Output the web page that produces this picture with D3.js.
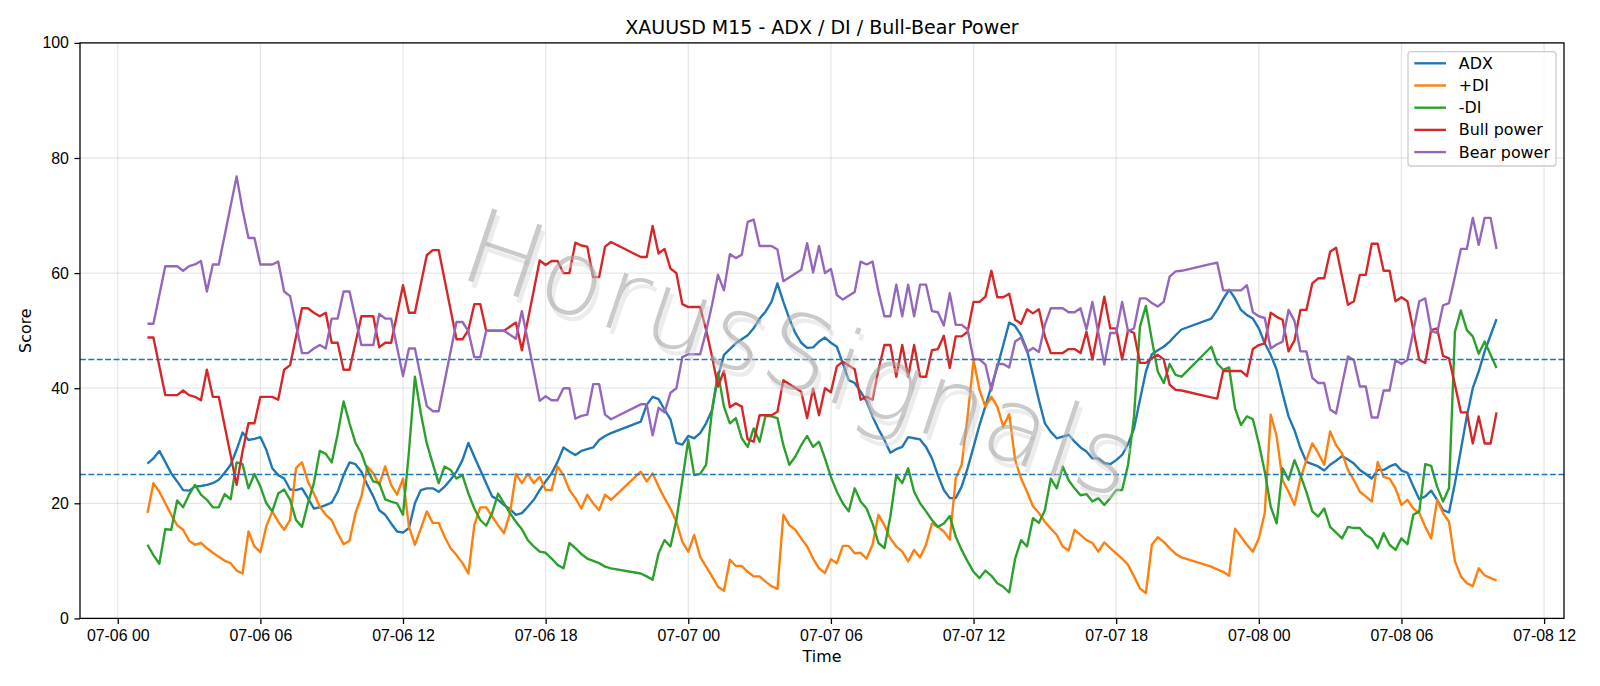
<!DOCTYPE html>
<html>
<head>
<meta charset="utf-8">
<script src="https://cdn.jsdelivr.net/npm/d3@7"></script>
<style>
  body { margin: 0; background: #fff; }
  svg { display: block; font-family: "DejaVu Sans", sans-serif; }
</style>
</head>
<body>
<div id="chart"></div>
<script>
// M15 bars, three trading sessions (start, number of bars)
var sessions = [["2025-07-06 01:15", 79], ["2025-07-06 22:00", 92], ["2025-07-07 22:00", 49]];

var adx = [
  26.9,27.8,29.1,27.2,25.2,23.8,22.3,22.2,22.9,23.0,23.2,23.5,24.1,25.3,26.7,29.3,32.3,31.0,31.2,31.5,29.3,26.1,24.9,24.3,22.4,22.3,22.6,20.9,19.1,19.3,19.7,20.1,
  22.0,24.9,27.1,26.8,25.5,23.2,21.2,18.8,18.0,16.5,15.1,14.9,15.7,20.0,22.3,22.6,22.6,22.0,22.9,24.1,25.5,27.5,30.5,28.1,25.8,23.5,21.2,20.6,19.7,19.0,18.0,18.3,19.4,20.6,22.3,23.8,25.2,27.2,29.7,29.0,28.4,29.1,29.4,29.7,31.0,31.7,32.2,
  34.2,37.1,38.5,38.1,36.3,34.6,30.5,30.2,31.7,31.3,32.2,33.9,36.2,42.0,45.8,46.8,47.8,48.5,49.2,50.4,52.1,53.3,55.0,58.2,55.0,52.1,49.6,47.9,47.0,47.1,48.1,48.8,47.9,47.2,
  44.3,41.4,40.9,39.4,37.7,35.1,32.9,31.0,28.8,29.4,29.8,31.5,31.3,31.1,29.8,27.8,24.9,22.3,20.9,20.9,22.9,26.1,29.8,33.6,36.9,40.3,43.7,47.5,51.4,50.8,49.2,46.6,42.3,37.9,33.9,32.4,31.3,31.6,31.9,30.7,29.7,29.0,
  27.8,27.8,27.0,26.8,27.5,28.4,30.3,33.0,38.0,42.9,45.9,46.6,47.2,48.1,49.2,50.2,
  52.1,53.6,55.5,57.1,55.6,53.6,52.7,52.1,50.4,47.8,45.8,43.2,39.1,35.1,32.7,29.6,27.2,26.8,26.4,25.7,26.7,27.4,28.2,27.6,26.9,25.8,25.1,24.3,25.8,25.8,26.4,26.8,25.7,25.3,22.9,20.7,21.2,22.2,20.6,18.8,18.4,23.5,29.3,35.1,40.0,42.9,46.4,49.2,52.0
];

var plusDI = [
  18.3,23.5,22.0,20.0,18.0,16.2,15.4,13.5,12.8,13.1,12.2,11.4,10.7,10.0,9.6,8.3,7.8,15.1,12.5,11.5,16.0,18.6,16.8,15.4,17.1,26.1,27.1,23.8,21.7,19.4,18.0,17.1,
  14.8,12.9,13.5,18.3,21.2,26.4,25.2,23.2,26.4,23.2,21.5,24.3,15.9,12.8,15.6,18.6,16.6,16.6,14.2,12.2,11.0,9.6,7.8,16.2,19.3,19.3,17.7,16.2,14.8,18.3,25.1,23.5,25.1,23.5,24.6,22.3,22.3,26.4,24.9,22.3,20.9,19.1,21.5,20.0,18.8,21.5,20.6,
  25.5,23.8,25.2,22.9,20.9,19.1,16.8,13.3,11.6,14.5,10.7,9.0,7.3,5.5,4.8,10.2,9.1,9.1,8.1,7.3,7.3,6.4,5.6,5.1,18.0,16.2,15.4,13.9,12.5,10.4,8.7,7.9,10.3,9.6,
  12.6,12.6,11.3,11.4,10.4,12.8,18.0,16.2,13.9,12.5,11.6,9.9,11.9,10.6,12.8,16.5,15.9,15.1,13.7,24.3,26.7,35.1,44.9,39.7,36.8,38.5,36.8,33.3,35.5,27.5,24.3,22.0,19.5,18.3,16.8,15.6,14.5,12.5,11.8,15.4,14.5,13.6,
  13.1,11.6,13.2,12.2,11.3,10.4,9.3,7.3,5.2,4.4,12.8,14.1,13.3,12.2,11.2,10.6,
  9.0,8.5,8.1,7.4,15.6,14.2,12.8,11.6,13.9,18.3,35.4,31.6,24.0,22.0,19.7,24.3,27.5,30.4,28.7,26.7,32.5,30.1,28.7,25.8,24.0,22.0,21.2,20.3,27.2,24.6,24.3,22.6,19.7,20.6,19.1,18.3,15.9,13.9,20.6,18.3,16.8,9.9,7.3,6.1,5.6,8.7,7.5,7.0,6.6
];

var minusDI = [
  12.8,11.0,9.5,15.5,15.4,20.5,19.3,21.5,23.2,21.5,20.6,19.3,19.3,21.6,20.7,27.1,26.8,22.6,25.1,22.9,20.0,18.6,21.7,22.4,20.6,17.1,15.9,20.0,23.5,29.1,28.6,27.1,
  32.0,37.7,33.9,30.5,28.7,25.8,23.8,23.5,20.7,20.3,20.0,18.0,29.0,42.0,35.6,30.4,26.9,23.5,26.4,25.8,24.3,24.9,21.7,19.1,17.1,16.1,18.3,21.7,20.0,18.3,16.8,15.5,13.6,12.5,11.6,11.4,10.4,9.3,8.7,13.1,12.2,11.2,10.4,10.0,9.6,9.0,8.7,
  7.8,7.3,6.7,11.3,13.6,12.5,17.1,24.0,31.0,24.9,25.1,26.7,36.2,42.7,36.8,33.9,34.8,31.3,29.8,33.0,30.7,35.2,35.1,34.8,30.1,26.7,28.1,30.1,31.7,29.8,30.7,27.8,24.6,22.0,
  20.0,18.6,22.6,20.3,19.1,16.5,13.1,12.2,17.7,24.9,23.5,26.1,22.0,20.0,18.6,17.1,15.9,16.5,17.8,14.2,11.9,9.9,8.1,7.0,8.3,7.4,6.1,5.5,4.5,10.4,13.6,12.5,17.4,16.6,18.8,24.3,22.6,26.4,24.0,22.6,21.4,21.6,
  20.3,20.9,19.7,20.9,22.3,22.3,26.7,35.1,50.7,54.3,48.4,42.9,40.9,44.2,42.3,42.0,
  47.2,44.3,43.2,43.6,36.5,33.6,35.1,34.6,30.4,25.5,19.4,16.5,26.1,24.1,27.5,24.9,22.0,18.6,17.7,19.1,15.9,14.9,13.9,15.9,15.7,15.7,14.5,13.9,12.2,14.8,12.8,11.9,13.9,12.9,18.0,18.6,26.8,26.5,22.9,20.3,22.6,49.8,53.5,50.1,49.0,46.0,48.1,45.8,43.5
];

// bull / bear power, hours since 07-06 00:00
var powerHours = [
  1.25,1.5,2,2.5,2.75,3,3.25,3.5,3.75,4,4.25,5,5.25,5.5,5.75,6,6.5,6.75,7,7.25,7.75,8,8.25,8.5,8.75,9,9.25,9.5,9.75,10.25,10.75,11,11.25,11.5,12,12.25,12.5,13,13.25,13.5,
  14.25,14.5,14.75,15,15.25,15.5,16.25,16.75,17,17.75,18,18.25,18.5,18.75,19,19.25,19.5,19.75,20,20.25,20.5,20.75,
  22,22.25,22.5,22.75,23,23.25,23.5,23.75,24,24.5,24.75,25,25.25,25.5,25.75,26,26.25,26.5,26.75,27,27.5,27.75,28,28.75,29,29.25,29.5,29.75,30,30.25,30.5,
  31,31.25,31.5,31.75,32,32.25,32.5,32.75,33,33.25,33.5,33.75,34,34.25,34.5,34.75,35,35.25,35.5,35.75,36,36.25,36.5,36.75,37,37.25,37.5,37.75,38,38.25,38.5,38.75,
  39,39.25,39.5,39.75,40,40.25,40.5,40.75,41,41.25,41.5,41.75,42,42.25,42.5,42.75,43,43.25,43.5,43.75,44,44.25,44.5,44.75,
  46,46.25,46.5,47.25,47.5,47.75,48,48.25,48.5,48.75,49,49.25,49.5,49.75,50,50.25,50.5,50.75,51,51.25,51.5,51.75,52,52.25,52.5,52.75,53,53.25,53.5,53.75,
  54,54.25,54.5,54.75,55,55.25,55.5,55.75,56,56.25,56.5,56.75,57,57.25,57.5,57.75,58
];
var bullPower = [
  48.8,48.8,38.8,38.8,39.6,38.8,38.5,37.9,43.2,38.5,38.5,23.2,29.0,33.9,33.9,38.5,38.5,38.0,43.2,44.0,53.9,53.9,53.1,52.5,53.1,47.9,47.9,43.2,43.2,52.5,52.5,47.1,47.9,47.9,57.9,53.1,53.1,63.1,64.0,64.0,
  48.5,48.5,50.1,54.6,54.6,50.0,50.0,51.4,46.6,62.2,61.4,62.1,62.1,60.0,60.0,65.3,64.8,64.6,59.3,59.3,64.6,65.4,
  62.8,62.8,68.2,63.4,64.2,60.8,60.0,54.6,54.1,54.1,50.1,45.5,40.3,43.0,36.7,37.4,36.8,31.1,30.7,35.3,35.3,35.9,41.4,39.4,34.8,39.9,35.3,40.0,39.3,43.8,44.6,
  43.3,38.0,38.5,38.0,43.2,47.5,47.5,42.0,47.5,42.0,47.5,42.0,42.0,46.6,46.8,49.1,43.5,49.0,49.0,49.8,55.0,55.0,55.9,60.4,55.8,55.8,56.4,51.9,51.2,53.7,53.0,53.7,
  49.0,46.1,46.1,46.1,46.8,46.8,46.1,49.8,45.0,50.4,55.9,50.4,50.4,45.0,50.1,49.6,44.4,44.4,45.2,45.8,45.0,40.6,39.7,39.6,
  38.4,38.2,43.0,43.0,42.1,46.8,47.5,47.8,53.1,52.4,51.9,46.4,48.3,53.6,53.6,58.2,59.1,59.1,63.7,64.4,59.4,54.5,55.1,59.7,59.7,65.1,65.1,60.4,60.4,55.1,
  55.8,55.1,50.1,44.9,44.4,50.1,50.4,45.6,45.2,40.6,35.8,35.8,30.4,35.1,30.4,30.4,35.8
];
var bearPower = [
  51.2,51.2,61.2,61.2,60.4,61.2,61.5,62.1,56.8,61.5,61.5,76.8,71.0,66.1,66.1,61.5,61.5,62.0,56.8,56.0,46.1,46.1,46.9,47.5,46.9,52.1,52.1,56.8,56.8,47.5,47.5,52.9,52.1,52.1,42.1,46.9,46.9,36.9,36.0,36.0,
  51.5,51.5,49.9,45.4,45.4,50.0,50.0,48.6,53.4,37.8,38.6,37.9,37.9,40.0,40.0,34.7,35.2,35.4,40.7,40.7,35.4,34.6,
  37.2,37.2,31.8,36.6,35.8,39.2,40.0,45.4,45.9,45.9,49.9,54.5,59.7,57.0,63.3,62.6,63.2,68.9,69.3,64.7,64.7,64.1,58.6,60.6,65.2,60.1,64.7,60.0,60.7,56.2,55.4,
  56.7,62.0,61.5,62.0,56.8,52.5,52.5,58.0,52.5,58.0,52.5,58.0,58.0,53.4,53.2,50.9,56.5,51.0,51.0,50.2,45.0,45.0,44.1,39.6,44.2,44.2,43.6,48.1,48.8,46.3,47.0,46.3,
  51.0,53.9,53.9,53.9,53.2,53.2,53.9,50.2,55.0,49.6,44.1,49.6,49.6,55.0,49.9,50.4,55.6,55.6,54.8,54.2,55.0,59.4,60.3,60.4,
  61.6,61.8,57.0,57.0,57.9,53.2,52.5,52.2,46.9,47.6,48.1,53.6,51.7,46.4,46.4,41.8,40.9,40.9,36.3,35.6,40.6,45.5,44.9,40.3,40.3,34.9,34.9,39.6,39.6,44.9,
  44.2,44.9,49.9,55.1,55.6,49.9,49.6,54.4,54.8,59.4,64.2,64.2,69.6,64.9,69.6,69.6,64.2
];

var levels = [45, 25];
var seriesNames = ["ADX", "+DI", "-DI", "Bull power", "Bear power"];
var seriesColors = ["#1f77b4", "#ff7f0e", "#2ca02c", "#d62728", "#9467bd"];
var yTicks = [0, 20, 40, 60, 80, 100];

var width = 1600, height = 686;
var plot = { left: 80, right: 1564, top: 42.9, bottom: 618.4 };

var parseTime = d3.timeParse("%Y-%m-%d %H:%M");
var dayStart = parseTime("2025-07-06 00:00");

var barTimes = [];
sessions.forEach(function(s) {
    var t0 = parseTime(s[0]);
    for (var i = 0; i < s[1]; i++) barTimes.push(d3.timeMinute.offset(t0, 15 * i));
});
var powerTimes = powerHours.map(function(h) { return d3.timeMinute.offset(dayStart, Math.round(h * 60)); });

function zip(times, values) {
    var out = [];
    for (var i = 0; i < Math.min(times.length, values.length); i++) out.push([times[i], values[i]]);
    return out;
}

var series = [
    zip(barTimes, adx),
    zip(barTimes, plusDI),
    zip(barTimes, minusDI),
    zip(powerTimes, bullPower),
    zip(powerTimes, bearPower)
];

// matplotlib style 5% margin on the time axis
var ext = d3.extent(barTimes), pad = (ext[1] - ext[0]) * 0.05;
var x = d3.scaleTime()
    .domain([new Date(+ext[0] - pad), new Date(+ext[1] + pad)])
    .range([plot.left, plot.right]);
var y = d3.scaleLinear().domain([0, 100]).range([plot.bottom, plot.top]);

var svg = d3.select("#chart").append("svg")
    .attr("width", width).attr("height", height);

var xTickVals = x.ticks(d3.timeHour.every(6));

// grid
var grid = svg.append("g").attr("stroke", "#b0b0b0").attr("stroke-opacity", 0.3).attr("stroke-width", 1.27);
grid.selectAll("line.gx").data(xTickVals).enter().append("line")
    .attr("x1", function(d) { return x(d); }).attr("x2", function(d) { return x(d); })
    .attr("y1", plot.top).attr("y2", plot.bottom);
grid.selectAll("line.gy").data(yTicks).enter().append("line")
    .attr("x1", plot.left).attr("x2", plot.right)
    .attr("y1", function(d) { return y(d); }).attr("y2", function(d) { return y(d); });

// series
var line = d3.line().x(function(d) { return x(d[0]); }).y(function(d) { return y(d[1]); });
svg.append("g").selectAll("path").data(series).enter().append("path")
    .attr("d", line)
    .attr("fill", "none")
    .attr("stroke", function(d, i) { return seriesColors[i]; })
    .attr("stroke-width", 2.38)
    .attr("stroke-linejoin", "round");

// threshold lines
svg.append("g").selectAll("line").data(levels).enter().append("line")
    .attr("x1", plot.left).attr("x2", plot.right)
    .attr("y1", function(d) { return y(d); }).attr("y2", function(d) { return y(d); })
    .attr("stroke", "#1f77b4").attr("stroke-width", 1.59)
    .attr("stroke-dasharray", "5.9,2.5");

// watermark: soft shadow + gray text
var mark = svg.append("g").attr("transform", "translate(800,352) rotate(18.5)");
[[5, 5, "#d4d4d4", 0.45], [0, 0, "#a6a6a6", 0.6]].forEach(function(m) {
    mark.append("text")
        .attr("x", m[0]).attr("y", m[1])
        .attr("text-anchor", "middle").attr("dy", "0.36em")
        .attr("textLength", 700).attr("lengthAdjust", "spacing")
        .style("font-size", "104px").style("font-weight", 200)
        .attr("fill", m[2]).attr("fill-opacity", m[3])
        .text("HorusSignals");
});

// axes
var xAxis = d3.axisBottom(x).tickValues(xTickVals)
    .tickFormat(d3.timeFormat("%m-%d %H")).tickSize(5.56).tickPadding(5.56).tickSizeOuter(0);
var yAxis = d3.axisLeft(y).tickValues(yTicks).tickSize(5.56).tickPadding(5.56).tickSizeOuter(0);

var gx = svg.append("g").attr("transform", "translate(0," + plot.bottom + ")").call(xAxis);
var gy = svg.append("g").attr("transform", "translate(" + plot.left + ",0)").call(yAxis);
[gx, gy].forEach(function(g) {
    g.select(".domain").remove();
    g.selectAll(".tick line").attr("stroke", "#000").attr("stroke-width", 1.27);
    g.selectAll(".tick text").attr("fill", "#000").style("font-size", "15.9px");
});

// spines
svg.append("rect")
    .attr("x", plot.left).attr("y", plot.top)
    .attr("width", plot.right - plot.left).attr("height", plot.bottom - plot.top)
    .attr("fill", "none").attr("stroke", "#000").attr("stroke-width", 1.27);

// title and axis labels
svg.append("text").attr("x", (plot.left + plot.right) / 2).attr("y", 33.5)
    .attr("text-anchor", "middle").style("font-size", "19px")
    .text("XAUUSD M15 - ADX / DI / Bull-Bear Power");
svg.append("text").attr("x", (plot.left + plot.right) / 2).attr("y", 662)
    .attr("text-anchor", "middle").style("font-size", "15.9px").text("Time");
svg.append("text").attr("transform", "translate(25.5," + ((plot.top + plot.bottom) / 2) + ") rotate(-90)")
    .attr("text-anchor", "middle").attr("dy", "0.35em").style("font-size", "15.9px").text("Score");

// legend
var legend = svg.append("g");
legend.append("rect")
    .attr("x", 1408).attr("y", 51.7).attr("width", 148).attr("height", 114.3).attr("rx", 3)
    .attr("fill", "#fff").attr("fill-opacity", 0.8)
    .attr("stroke", "#cccccc").attr("stroke-width", 1.27);
var rows = legend.selectAll("g.row").data(seriesNames).enter().append("g")
    .attr("transform", function(d, i) { return "translate(0," + (63.3 + i * 22.2) + ")"; });
rows.append("line").attr("x1", 1414.3).attr("x2", 1446)
    .attr("stroke", function(d, i) { return seriesColors[i]; }).attr("stroke-width", 2.38);
rows.append("text").attr("x", 1458.8).attr("dy", "0.35em")
    .style("font-size", "15.9px").text(function(d) { return d; });
</script>
</body>
</html>
